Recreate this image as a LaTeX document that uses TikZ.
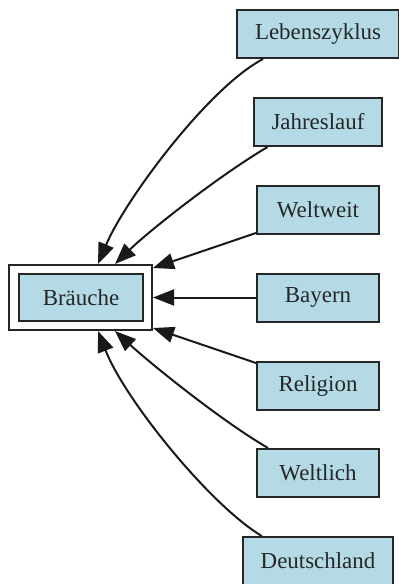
\documentclass[tikz,border=0pt]{standalone}
\usepackage{fontspec}
\setmainfont{Liberation Serif}
\usetikzlibrary{arrows.meta,calc}
\definecolor{boxblue}{HTML}{B4DAE6}
\tikzset{
  topic/.style={draw=black!85, line width=2bp, fill=boxblue, minimum height=48bp,
    minimum width=122bp, inner xsep=18bp, inner ysep=0pt, text=black!85,
    font=\fontsize{23}{27}\selectfont},
  frame/.style={draw=black!85, line width=2bp, minimum width=143bp, minimum height=65bp, inner sep=0pt},
  link/.style={line width=2bp, draw=black!90, -{Triangle[length=21bp,width=16bp]}},
}
\begin{document}
\begin{tikzpicture}[x=1bp,y=-1bp]
\useasboundingbox (0,0) rectangle (398,584);
% central node with its double frame
\node[frame] (brout) at (80.5,297.5) {};
\node[topic, minimum width=124bp, minimum height=47bp] (br) at (81,297.5) {Bräuche};
% topics on the right
\node[topic] (lz) at (318,34) {Lebenszyklus};
\node[topic] (jl) at (318,122) {Jahreslauf};
\node[topic] (ww) at (318,210) {Weltweit};
\node[topic] (by) at (318,297.5) {Bayern};
\node[topic] (rl) at (318,386) {Religion};
\node[topic] (wl) at (318,473) {Weltlich};
\node[topic] (dl) at (318,561) {Deutschland};
% connectors into the frame
\draw[link] ($(lz.south west)+(27,0)$) .. controls (208,88) and (125,200) .. ($(brout.north)+(17.5,0)$);
\draw[link] ($(jl.south west)+(15,0)$) .. controls (220,175) and (150,230) .. ($(brout.north)+(34.5,0)$);
\draw[link] ($(ww.south west)+(0,-2)$) -- ($(brout.north east)+(0,4)$);
\draw[link] (by.west) -- (brout.east);
\draw[link] ($(rl.north west)+(0,2)$) -- ($(brout.south east)+(0,-3)$);
\draw[link] ($(wl.north west)+(12,0)$) .. controls (220,420) and (150,363) .. ($(brout.south)+(34.5,0)$);
\draw[link] ($(dl.north west)+(20,0)$) .. controls (210,505) and (125,400) .. ($(brout.south)+(17.5,0)$);
\end{tikzpicture}
\end{document}
